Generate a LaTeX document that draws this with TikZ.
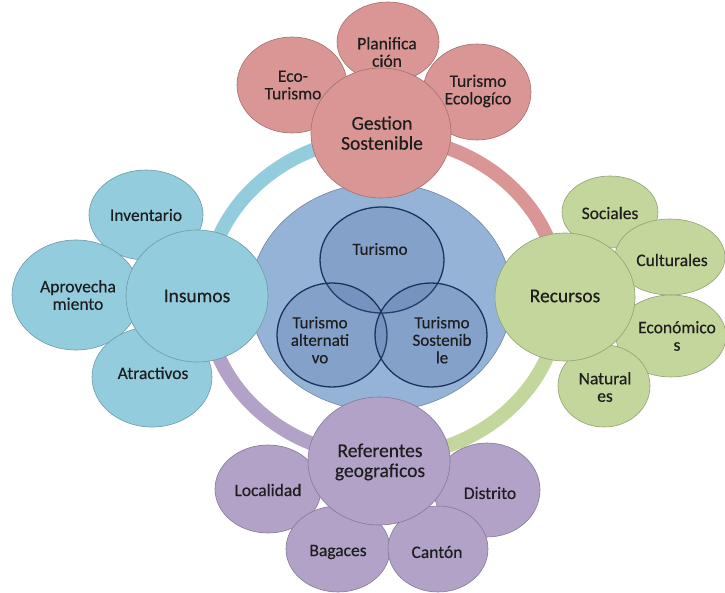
\documentclass[tikz,border=0pt]{standalone}
\usepackage{fontspec}
\setmainfont{Carlito}[FakeBold=0.4]
\usetikzlibrary{shapes.geometric}
\definecolor{cred}{HTML}{D99694}
\definecolor{cblue}{HTML}{93CDDD}
\definecolor{cgreen}{HTML}{C3D69B}
\definecolor{cpurple}{HTML}{B2A2C7}
\definecolor{ccenter}{HTML}{95B3D7}
\definecolor{vennfill}{RGB}{70,100,155}
\definecolor{vennline}{RGB}{28,52,92}
\definecolor{txt}{HTML}{1E1E1E}
\begin{document}
\begin{tikzpicture}[x=1pt,y=1pt,
  blob/.style={ellipse, inner sep=0pt, draw=#1!75!black, line width=0.6pt, fill=#1},
  venn/.style={ellipse, inner sep=0pt, draw=vennline, line width=1.3pt, fill=vennfill, fill opacity=0.22},
  lbl/.style={align=center, inner sep=0pt, text=txt, font=\fontsize{17.5}{17.5}\selectfont},
  mainlbl/.style={align=center, inner sep=0pt, text=txt, font=\fontsize{19.5}{20}\selectfont},
  vlbl/.style={align=center, inner sep=0pt, text=txt, font=\fontsize{17}{17.5}\selectfont},
  ring/.style={line width=14pt, draw=#1}]
\useasboundingbox (0,0) rectangle (725,592);
\fill[white] (0,0) rectangle (725,592);

% ring
\coordinate (rc) at (383,295);
\draw[ring=cred]    (rc) ++(0:177pt and 160pt)   arc[start angle=0,   end angle=90,  x radius=177pt, y radius=160pt];
\draw[ring=cblue]   (rc) ++(90:177pt and 160pt)  arc[start angle=90,  end angle=180, x radius=177pt, y radius=160pt];
\draw[ring=cpurple] (rc) ++(180:177pt and 160pt) arc[start angle=180, end angle=270, x radius=177pt, y radius=160pt];
\draw[ring=cgreen]  (rc) ++(270:177pt and 160pt) arc[start angle=270, end angle=360, x radius=177pt, y radius=160pt];

% centre
\node[blob=ccenter, minimum width=262pt, minimum height=228pt] (centre) at (381,295) {};
\node[venn, minimum width=124pt, minimum height=106pt] (v1) at (382,332) {};
\node[venn, minimum width=110pt, minimum height=104pt] (v2) at (332,257) {};
\node[venn, minimum width=112pt, minimum height=104pt] (v3) at (431,257) {};
\node[vlbl] (tv1) at (380,343) {Turismo};
\node[vlbl] (tv2) at (320,252) {Turismo\\alternati\\vo};
\node[vlbl] (tv3) at (442,252) {Turismo\\Sostenib\\le};

% Gestion group
\node[blob=cred, minimum width=110pt, minimum height=96pt] (eco) at (292,507) {};
\node[blob=cred, minimum width=102pt, minimum height=80pt] (plan) at (388,550) {};
\node[blob=cred, minimum width=108pt, minimum height=96pt] (teco) at (477,500) {};
\node[blob=cred, minimum width=140pt, minimum height=130pt] (gest) at (381,459) {};
\node[lbl] (teco1) at (293,507) {Eco-\\Turismo};
\node[lbl] (tplan) at (387,540) {Planifica\\ción};
\node[lbl] (tteco) at (478,501) {Turismo\\Ecologíco};
\node[mainlbl] (tgest) at (382,459) {Gestion\\Sostenible};

% Insumos group
\node[blob=cblue, minimum width=114pt, minimum height=90pt] (inv) at (146,377) {};
\node[blob=cblue, minimum width=128pt, minimum height=110pt] (apro) at (76,297) {};
\node[blob=cblue, minimum width=120pt, minimum height=100pt] (atra) at (152,215) {};
\node[blob=cblue, minimum width=142pt, minimum height=132pt] (insu) at (197,296) {};
\node[lbl] (tinv) at (146,377) {Inventario};
\node[lbl] (tapro) at (78,297) {Aprovecha\\miento};
\node[lbl] (tatra) at (153,219) {Atractivos};
\node[mainlbl] (tinsu) at (197,296) {Insumos};

% Recursos group
\node[blob=cgreen, minimum width=96pt, minimum height=72pt] (soc) at (610,380) {};
\node[blob=cgreen, minimum width=110pt, minimum height=76pt] (cul) at (670,335) {};
\node[blob=cgreen, minimum width=110pt, minimum height=82pt] (eco2) at (671,256) {};
\node[blob=cgreen, minimum width=92pt, minimum height=82pt] (nat) at (604,206) {};
\node[blob=cgreen, minimum width=140pt, minimum height=128pt] (rec) at (565,295) {};
\node[lbl] (tsoc) at (610,379) {Sociales};
\node[lbl] (tcul) at (672,332) {Culturales};
\node[lbl] (teco2) at (677,256) {Económico\\s};
\node[lbl] (tnat) at (605,205) {Natural\\es};
\node[mainlbl] (trec) at (565,296) {Recursos};

% Referentes group
\node[blob=cpurple, minimum width=106pt, minimum height=88pt] (loc) at (268,103) {};
\node[blob=cpurple, minimum width=106pt, minimum height=94pt] (dis) at (487,102) {};
\node[blob=cpurple, minimum width=104pt, minimum height=86pt] (bag) at (338,43) {};
\node[blob=cpurple, minimum width=100pt, minimum height=86pt] (can) at (438,43) {};
\node[blob=cpurple, minimum width=142pt, minimum height=128pt] (ref) at (379,131) {};
\node[lbl] (tloc) at (268,102) {Localidad};
\node[lbl] (tdis) at (490,99) {Distrito};
\node[lbl] (tbag) at (338,40) {Bagaces};
\node[lbl] (tcan) at (437,40) {Cantón};
\node[mainlbl] (tref) at (380,130) {Referentes\\geograficos};
\end{tikzpicture}
\end{document}
